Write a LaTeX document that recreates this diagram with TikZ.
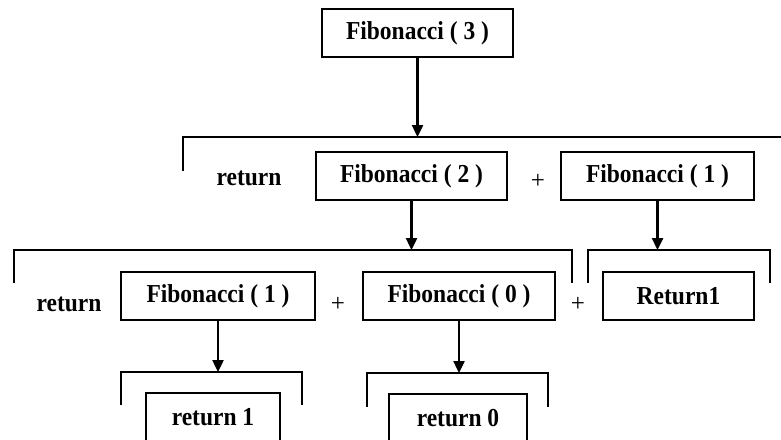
\documentclass[tikz,border=0pt]{standalone}
\usepackage{fontspec}
\setmainfont{Liberation Serif}
\usetikzlibrary{calc}
\usetikzlibrary{arrows.meta}

\newcommand{\tall}[1]{\scalebox{1}[1.1]{#1}}

\tikzset{
    callbox/.style={draw, line width=2.8pt, minimum height=48pt, inner sep=0pt, font=\fontsize{23.5}{28}\selectfont\bfseries},
    word/.style={font=\fontsize{23.5}{28}\selectfont\bfseries},
    plus/.style={font=\fontsize{25}{30}\selectfont},
    arr/.style={line width=2.4pt, -{Triangle[length=12pt,width=11pt]}},
    brack/.style={line width=2.9pt}
}

\begin{document}
\begin{tikzpicture}[x=1pt, y=-1pt]

    \useasboundingbox (0, 0) rectangle (781, 439);

    % first call
    \node[callbox, minimum width=191pt] (F3) at (417.5, 33) {\tall{Fibonacci ( 3 )}};

    % level one
    \coordinate (A1) at (183, 137);
    \coordinate (A2) at (781, 137);
    \draw[brack] ($(A1) + (0, 34)$) -- (A1) -- (A2);

    \node[word] (ret1) at (249, 178) {\tall{return}};
    \node[callbox, minimum width=191pt] (F2) at (411.5, 176) {\tall{Fibonacci ( 2 )}};
    \node[plus] (p1) at (538, 181) {+};
    \node[callbox, minimum width=193pt] (F1a) at (657.5, 176) {\tall{Fibonacci ( 1 )}};

    \draw[arr] (F3.south) -- (F3.south |- A1);

    % level two
    \coordinate (B1) at (14, 250);
    \coordinate (B2) at (572, 250);
    \coordinate (B3) at (588, 250);
    \coordinate (B4) at (770, 250);
    \draw[brack] ($(B1) + (0, 33)$) -- (B1) -- (B2) -- ($(B2) + (0, 33)$);
    \draw[brack] ($(B3) + (0, 33)$) -- (B3) -- (B4) -- ($(B4) + (0, 33)$);

    \node[word] (ret2) at (69, 304) {\tall{return}};
    \node[callbox, minimum width=194pt] (F1b) at (218, 296) {\tall{Fibonacci ( 1 )}};
    \node[plus] (p2) at (338, 304) {+};
    \node[callbox, minimum width=192pt] (F0) at (459, 296) {\tall{Fibonacci ( 0 )}};
    \node[plus] (p3) at (578, 304) {+};
    \node[callbox, minimum width=151pt] (R1) at (678.5, 296) {\tall{Return1}};

    \draw[arr] (F2.south) -- (F2.south |- B1);
    \draw[arr] (F1a.south) -- (F1a.south |- B3);

    % level three
    \coordinate (C1) at (121, 372);
    \coordinate (C2) at (302, 372);
    \coordinate (C3) at (367, 373);
    \coordinate (C4) at (548, 373);
    \draw[brack] ($(C1) + (0, 33)$) -- (C1) -- (C2) -- ($(C2) + (0, 33)$);
    \draw[brack] ($(C3) + (0, 34)$) -- (C3) -- (C4) -- ($(C4) + (0, 34)$);

    \node[callbox, minimum width=134pt] (r1) at (213, 417) {\tall{return 1}};
    \node[callbox, minimum width=138pt] (r0) at (458, 418) {\tall{return 0}};

    \draw[arr] (F1b.south) -- (F1b.south |- C1);
    \draw[arr] (F0.south) -- (F0.south |- C3);

\end{tikzpicture}
\end{document}
